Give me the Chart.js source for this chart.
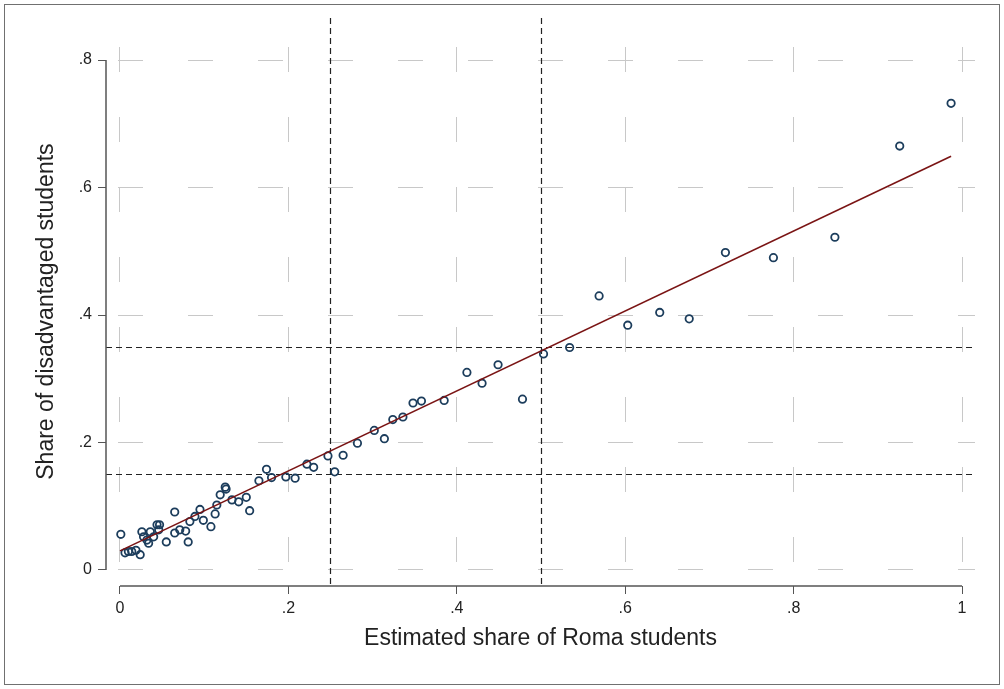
<!DOCTYPE html>
<html>
<head>
<meta charset="utf-8">
<script src="https://cdn.jsdelivr.net/npm/chart.js@4"></script>
<style>
  body { margin: 0; background: #fff; }
  #wrap { position: relative; width: 1004px; height: 689px; }
  #frame { position: absolute; left: 4px; top: 4px; width: 994px; height: 679px; border: 1.5px solid #707070; }
  canvas { position: absolute; left: 0; top: 0; }
</style>
</head>
<body>
<div id="wrap">
  <div id="frame"></div>
  <canvas id="chart" width="1004" height="689"></canvas>
</div>
<script>
// --- DATA ---
const romaShare = [0.001, 0.006, 0.010, 0.014, 0.019, 0.024, 0.026, 0.028, 0.032, 0.034,
  0.036, 0.040, 0.044, 0.047, 0.046, 0.055, 0.065, 0.065, 0.071, 0.078,
  0.081, 0.083, 0.089, 0.095, 0.099, 0.108, 0.113, 0.115, 0.119, 0.125,
  0.126, 0.133, 0.141, 0.150, 0.154, 0.165, 0.174, 0.180, 0.197, 0.208,
  0.222, 0.230, 0.247, 0.255, 0.265, 0.282, 0.302, 0.314, 0.324, 0.336,
  0.348, 0.358, 0.385, 0.412, 0.430, 0.449, 0.478, 0.503, 0.534, 0.569,
  0.603, 0.641, 0.676, 0.719, 0.776, 0.849, 0.926, 0.987];
const disadvShare = [0.056, 0.027, 0.029, 0.029, 0.031, 0.024, 0.060, 0.052, 0.047, 0.042,
  0.060, 0.052, 0.071, 0.071, 0.063, 0.044, 0.091, 0.058, 0.063, 0.061,
  0.044, 0.076, 0.084, 0.095, 0.078, 0.068, 0.088, 0.102, 0.118, 0.130,
  0.127, 0.110, 0.107, 0.114, 0.093, 0.140, 0.158, 0.145, 0.146, 0.144,
  0.166, 0.161, 0.179, 0.154, 0.180, 0.199, 0.219, 0.206, 0.236, 0.240,
  0.262, 0.265, 0.266, 0.310, 0.293, 0.322, 0.268, 0.339, 0.349, 0.430,
  0.384, 0.404, 0.394, 0.498, 0.490, 0.522, 0.665, 0.732];
const fitX = [0, 0.987];
const fitY = [0.030, 0.649];
const refX = [0.25, 0.5];
const refY = [0.15, 0.35];
const xTicks = [0, 0.2, 0.4, 0.6, 0.8, 1];
const yTicks = [0, 0.2, 0.4, 0.6, 0.8];

const FONT = "'Liberation Sans', Arial, sans-serif";

function fmt(v) {
  if (v === 0) return '0';
  if (v === 1) return '1';
  return Number(v).toFixed(1).replace(/^0\./, '.');
}

// reference lines + offset axis lines
const stataFrame = {
  id: 'stataFrame',
  beforeDatasetsDraw(chart) {
    const { ctx, chartArea: a, scales: { x, y } } = chart;
    ctx.save();
    ctx.strokeStyle = '#222';
    ctx.lineWidth = 1.2;
    ctx.setLineDash([6, 4]);
    refX.forEach(v => {
      const px = Math.round(x.getPixelForValue(v)) + 0.5;
      ctx.beginPath(); ctx.moveTo(px, a.top); ctx.lineTo(px, a.bottom); ctx.stroke();
    });
    refY.forEach(v => {
      const py = Math.round(y.getPixelForValue(v)) + 0.5;
      ctx.beginPath(); ctx.moveTo(a.left, py); ctx.lineTo(a.right, py); ctx.stroke();
    });
    ctx.restore();
  },
  afterDraw(chart) {
    const { ctx, chartArea: a, scales: { x, y } } = chart;
    ctx.save();
    ctx.strokeStyle = '#555';
    ctx.lineWidth = 1.5;
    ctx.beginPath();
    ctx.moveTo(a.left, y.getPixelForValue(yTicks[0]));
    ctx.lineTo(a.left, y.getPixelForValue(yTicks[yTicks.length - 1]));
    ctx.moveTo(x.getPixelForValue(xTicks[0]), a.bottom);
    ctx.lineTo(x.getPixelForValue(xTicks[xTicks.length - 1]), a.bottom);
    ctx.stroke();
    ctx.restore();
  }
};

new Chart(document.getElementById('chart'), {
  type: 'scatter',
  data: {
    datasets: [
      {
        type: 'line',
        data: fitX.map((v, i) => ({ x: v, y: fitY[i] })),
        borderColor: '#7a1414',
        borderWidth: 1.6,
        pointRadius: 0,
        fill: false,
        order: 0
      },
      {
        data: romaShare.map((v, i) => ({ x: v, y: disadvShare[i] })),
        pointStyle: 'circle',
        pointRadius: 3.7,
        pointBorderWidth: 1.8,
        borderColor: '#1c3d5c',
        backgroundColor: 'rgba(255,255,255,0)',
        order: 1
      }
    ]
  },
  options: {
    responsive: false,
    animation: false,
    layout: { padding: { top: 18, right: 29, left: 0, bottom: 0 } },
    plugins: { legend: { display: false }, tooltip: { enabled: false } },
    scales: {
      x: {
        type: 'linear',
        min: -0.0166,
        max: 1.0154,
        afterBuildTicks: s => { s.ticks = xTicks.map(v => ({ value: v })); },
        afterFit: s => { s.height = 103; },
        grid: {
          color: '#c8c8c8', lineWidth: 1,
          tickColor: '#555', tickLength: 8, tickWidth: 1, tickBorderDash: []
        },
        border: { display: false, dash: [25, 45], dashOffset: 41 },
        ticks: {
          padding: 5, color: '#222', maxRotation: 0, autoSkip: false,
          font: { family: FONT, size: 16 },
          callback: v => fmt(v)
        },
        title: {
          display: true, text: 'Estimated share of Roma students', color: '#222',
          font: { family: FONT, size: 23 }, padding: { top: 0, bottom: 37 }
        }
      },
      y: {
        type: 'linear',
        min: -0.0251,
        max: 0.8659,
        afterBuildTicks: s => { s.ticks = yTicks.map(v => ({ value: v })); },
        afterFit: s => { s.width = 106; },
        grid: {
          color: '#c8c8c8', lineWidth: 1,
          tickColor: '#555', tickLength: 8, tickWidth: 1, tickBorderDash: []
        },
        border: { display: false, dash: [25, 45], dashOffset: 58 },
        ticks: {
          padding: 6, color: '#222', autoSkip: false,
          font: { family: FONT, size: 16 },
          callback: v => fmt(v)
        },
        title: {
          display: true, text: 'Share of disadvantaged students   ', color: '#222',
          font: { family: FONT, size: 23 }, padding: { top: 33, bottom: 0 }
        }
      }
    }
  },
  plugins: [stataFrame]
});
</script>
</body>
</html>
